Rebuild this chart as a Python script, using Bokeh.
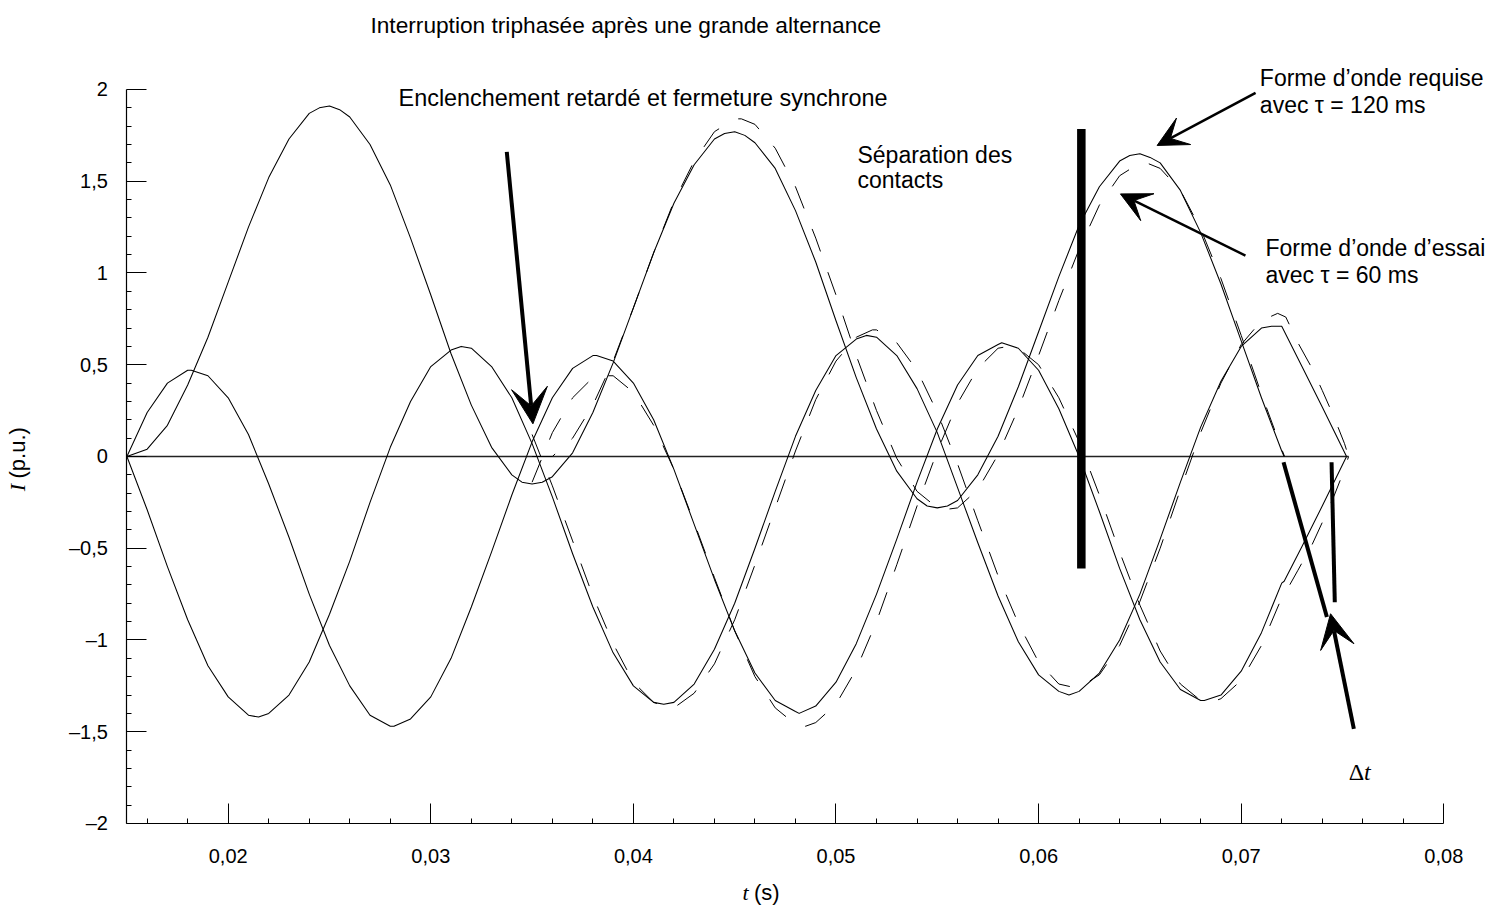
from bokeh.plotting import figure
from bokeh.models import Range1d, FixedTicker, Label, Arrow, VeeHead
from bokeh.embed import file_html
from bokeh.resources import INLINE

# ---------------- data ----------------
x_ticks = [0.02, 0.03, 0.04, 0.05, 0.06, 0.07, 0.08]
x_tick_labels = ["0,02", "0,03", "0,04", "0,05", "0,06", "0,07", "0,08"]
x_minor = [0.016, 0.018, 0.022, 0.024, 0.026, 0.028, 0.032, 0.034, 0.036, 0.038,
           0.042, 0.044, 0.046, 0.048, 0.052, 0.054, 0.056, 0.058, 0.062, 0.064,
           0.066, 0.068, 0.072, 0.074, 0.076, 0.078]
y_ticks = [-2, -1.5, -1, -0.5, 0, 0.5, 1, 1.5, 2]
y_tick_labels = ["–2", "–1,5", "–1", "–0,5", "0", "0,5", "1", "1,5", "2"]
y_minor = [-1.9, -1.8, -1.7, -1.6, -1.4, -1.3, -1.2, -1.1, -0.9, -0.8, -0.7, -0.6,
           -0.4, -0.3, -0.2, -0.1, 0.1, 0.2, 0.3, 0.4, 0.6, 0.7, 0.8, 0.9,
           1.1, 1.2, 1.3, 1.4, 1.6, 1.7, 1.8, 1.9]

# zero line (current after interruption)
zero_t = [0.015, 0.0753]
zero_i = [0.0, 0.0]

# required waveform (tau = 120 ms), phase A
req_a_t = [0.015, 0.016, 0.017, 0.018, 0.019, 0.020, 0.021, 0.022, 0.023, 0.024,
           0.0245, 0.025, 0.0255, 0.026, 0.027, 0.028, 0.029, 0.030, 0.031, 0.032,
           0.033, 0.034, 0.0345, 0.035, 0.0355, 0.036, 0.037, 0.038, 0.039, 0.040,
           0.041, 0.042, 0.043, 0.044, 0.0445, 0.045, 0.0455, 0.046, 0.047, 0.048,
           0.049, 0.050, 0.051, 0.052, 0.053, 0.054, 0.0545, 0.055, 0.0555, 0.056,
           0.057, 0.058, 0.059, 0.060, 0.061, 0.062, 0.063, 0.064, 0.0645, 0.065,
           0.0655, 0.066, 0.067, 0.068, 0.069, 0.070, 0.071, 0.072, 0.07212]
req_a_i = [0.00, 0.04, 0.17, 0.39, 0.65, 0.95, 1.25, 1.52, 1.73, 1.87,
           1.90, 1.91, 1.89, 1.85, 1.70, 1.48, 1.19, 0.88, 0.56, 0.28,
           0.05, -0.10, -0.14, -0.15, -0.14, -0.11, 0.02, 0.24, 0.51, 0.81,
           1.11, 1.38, 1.59, 1.73, 1.76, 1.77, 1.75, 1.71, 1.57, 1.34,
           1.06, 0.74, 0.43, 0.15, -0.08, -0.23, -0.27, -0.28, -0.27, -0.24,
           -0.10, 0.11, 0.38, 0.68, 0.98, 1.26, 1.47, 1.61, 1.64, 1.65,
           1.63, 1.60, 1.45, 1.22, 0.94, 0.63, 0.32, 0.03, 0.00]

# required waveform, phase B
req_b_t = [0.015, 0.016, 0.017, 0.018, 0.01818, 0.019, 0.020, 0.021, 0.022, 0.023,
           0.024, 0.025, 0.026, 0.027, 0.028, 0.02818, 0.029, 0.030, 0.031, 0.032,
           0.033, 0.034, 0.035, 0.036, 0.037, 0.038, 0.03818, 0.039, 0.040, 0.041,
           0.042, 0.043, 0.044, 0.045, 0.046, 0.047, 0.048, 0.04818, 0.049, 0.050,
           0.051, 0.052, 0.053, 0.054, 0.055, 0.056, 0.057, 0.058, 0.05818, 0.059,
           0.060, 0.061, 0.062, 0.063, 0.064, 0.065, 0.066, 0.067, 0.068, 0.06818,
           0.069, 0.070, 0.071, 0.072, 0.07212, 0.073, 0.074, 0.0752]
req_b_i = [0.00, 0.24, 0.40, 0.47, 0.47, 0.44, 0.32, 0.12, -0.15, -0.44,
           -0.75, -1.03, -1.25, -1.41, -1.47, -1.47, -1.43, -1.31, -1.10, -0.82,
           -0.52, -0.21, 0.08, 0.32, 0.48, 0.55, 0.55, 0.52, 0.40, 0.20,
           -0.07, -0.37, -0.67, -0.95, -1.18, -1.33, -1.39, -1.40, -1.36, -1.23,
           -1.02, -0.75, -0.45, -0.14, 0.15, 0.39, 0.55, 0.61, 0.62, 0.59,
           0.47, 0.26, 0.00, -0.30, -0.61, -0.89, -1.12, -1.27, -1.33, -1.33,
           -1.30, -1.17, -0.96, -0.69, -0.68, -0.49, -0.27, 0.00]

# required waveform, phase C
req_c_t = [0.015, 0.016, 0.017, 0.018, 0.019, 0.020, 0.021, 0.0215, 0.022, 0.023,
           0.024, 0.025, 0.026, 0.027, 0.028, 0.029, 0.030, 0.031, 0.0315, 0.032,
           0.033, 0.034, 0.035, 0.036, 0.037, 0.038, 0.039, 0.040, 0.041, 0.0415,
           0.042, 0.043, 0.044, 0.045, 0.046, 0.047, 0.048, 0.049, 0.050, 0.051,
           0.0515, 0.052, 0.053, 0.054, 0.055, 0.056, 0.057, 0.058, 0.059, 0.060,
           0.061, 0.0615, 0.062, 0.063, 0.064, 0.065, 0.066, 0.067, 0.068, 0.069,
           0.070, 0.071, 0.0715, 0.0720, 0.073, 0.074, 0.0752]
req_c_i = [0.00, -0.29, -0.60, -0.89, -1.14, -1.31, -1.41, -1.42, -1.40, -1.30,
           -1.12, -0.86, -0.57, -0.25, 0.05, 0.30, 0.49, 0.58, 0.60, 0.59,
           0.49, 0.32, 0.07, -0.22, -0.53, -0.82, -1.07, -1.25, -1.34, -1.35,
           -1.34, -1.24, -1.05, -0.80, -0.50, -0.19, 0.11, 0.36, 0.55, 0.64,
           0.66, 0.65, 0.55, 0.37, 0.13, -0.17, -0.47, -0.76, -1.01, -1.19,
           -1.28, -1.30, -1.28, -1.18, -1.00, -0.75, -0.45, -0.14, 0.16, 0.41,
           0.60, 0.70, 0.71, 0.71, 0.49, 0.27, 0.00]

# test waveform (tau = 60 ms), phase A
test_a_t = [0.035, 0.036, 0.037, 0.038, 0.039, 0.040, 0.041, 0.042, 0.043, 0.044,
            0.045, 0.04533, 0.046, 0.047, 0.048, 0.049, 0.050, 0.051, 0.052, 0.053,
            0.054, 0.055, 0.05533, 0.056, 0.057, 0.058, 0.059, 0.060, 0.061, 0.062,
            0.063, 0.064, 0.065, 0.06533, 0.066, 0.067, 0.068, 0.069, 0.070, 0.071,
            0.072, 0.07214]
test_a_i = [0.00, 0.00, 0.10, 0.28, 0.52, 0.81, 1.11, 1.39, 1.61, 1.77,
            1.84, 1.84, 1.81, 1.68, 1.47, 1.19, 0.88, 0.55, 0.25, -0.01,
            -0.19, -0.28, -0.29, -0.28, -0.18, 0.01, 0.26, 0.55, 0.85, 1.13,
            1.37, 1.53, 1.60, 1.60, 1.57, 1.45, 1.24, 0.97, 0.66, 0.34,
            0.04, 0.00]

# test waveform, phase B
test_b_t = [0.035, 0.036, 0.037, 0.038, 0.0385, 0.039, 0.040, 0.041, 0.042, 0.043,
            0.044, 0.045, 0.046, 0.047, 0.048, 0.0485, 0.049, 0.050, 0.051, 0.052,
            0.053, 0.054, 0.055, 0.056, 0.057, 0.058, 0.0585, 0.059, 0.060, 0.061,
            0.062, 0.063, 0.064, 0.065, 0.066, 0.067, 0.068, 0.0685, 0.069, 0.070,
            0.071, 0.072, 0.07214, 0.0728, 0.0735, 0.0740, 0.0746, 0.0751, 0.0753]
test_b_i = [-0.14, 0.13, 0.32, 0.43, 0.44, 0.44, 0.35, 0.17, -0.07, -0.36,
            -0.66, -0.95, -1.20, -1.37, -1.46, -1.47, -1.45, -1.35, -1.16, -0.90,
            -0.59, -0.27, 0.03, 0.29, 0.48, 0.59, 0.60, 0.59, 0.50, 0.32,
            0.08, -0.21, -0.52, -0.81, -1.06, -1.24, -1.33, -1.34, -1.32, -1.22,
            -1.03, -0.77, -0.75, -0.62, -0.48, -0.36, -0.21, -0.07, 0.00]

# test waveform, phase C
test_c_t = [0.035, 0.036, 0.037, 0.038, 0.039, 0.040, 0.041, 0.0418, 0.042, 0.043,
            0.044, 0.045, 0.046, 0.047, 0.048, 0.049, 0.050, 0.051, 0.0518, 0.052,
            0.053, 0.054, 0.055, 0.056, 0.057, 0.058, 0.059, 0.060, 0.061, 0.0618,
            0.062, 0.063, 0.064, 0.065, 0.066, 0.067, 0.068, 0.069, 0.070, 0.071,
            0.0718, 0.0722, 0.0728, 0.0735, 0.0740, 0.0746, 0.0751, 0.0753]
test_c_i = [0.12, -0.16, -0.46, -0.76, -1.02, -1.23, -1.34, -1.37, -1.37, -1.29,
            -1.13, -0.89, -0.59, -0.28, 0.03, 0.31, 0.52, 0.65, 0.69, 0.69,
            0.62, 0.47, 0.24, -0.04, -0.35, -0.65, -0.91, -1.12, -1.24, -1.26,
            -1.26, -1.19, -1.03, -0.79, -0.50, -0.18, 0.13, 0.40, 0.61, 0.74,
            0.78, 0.76, 0.62, 0.48, 0.36, 0.21, 0.07, 0.00]

# ---------------- figure ----------------
FONT = "Liberation Sans"
SERIF = "Liberation Serif"

# the frame covers the whole canvas; axes are pinned at t=0.015 and I=-2
p = figure(width=1492, height=915,
           x_range=Range1d(0.008761, 0.082404), y_range=Range1d(-2.5014, 2.4850),
           output_backend="svg", toolbar_location=None, min_border=0)
p.xgrid.visible = False
p.ygrid.visible = False
p.outline_line_color = None
p.background_fill_color = "white"
p.border_fill_color = "white"

p.xaxis.ticker = FixedTicker(ticks=x_ticks, minor_ticks=x_minor)
p.yaxis.ticker = FixedTicker(ticks=y_ticks, minor_ticks=y_minor)
p.xaxis.major_label_overrides = dict(zip(x_ticks, x_tick_labels))
p.yaxis.major_label_overrides = dict(zip(y_ticks, y_tick_labels))
p.xaxis.fixed_location = -2
p.yaxis.fixed_location = 0.015
p.xaxis.bounds = (0.015, 0.08)
p.yaxis.bounds = (-2, 2)

for ax in (p.xaxis[0], p.yaxis[0]):
    ax.axis_line_color = "black"
    ax.axis_line_width = 1.2
    ax.major_tick_line_color = "black"
    ax.minor_tick_line_color = "black"
    ax.major_tick_in = 20
    ax.major_tick_out = 0
    ax.minor_tick_in = 5
    ax.minor_tick_out = 0
    ax.major_label_text_font = FONT
    ax.major_label_text_font_size = "20px"
    ax.major_label_text_color = "black"
p.xaxis.major_label_standoff = 26
p.yaxis.major_label_standoff = 19

# curves
p.line(zero_t, zero_i, line_color="#222222", line_width=1.5)
for tt, ii in ((req_a_t, req_a_i), (req_b_t, req_b_i), (req_c_t, req_c_i)):
    p.line(tt, ii, line_color="black", line_width=1.05, line_join="round")
for tt, ii in ((test_a_t, test_a_i), (test_b_t, test_b_i), (test_c_t, test_c_i)):
    p.line(tt, ii, line_color="black", line_width=1.0, line_dash="24 22")

# contact separation bar
p.segment(x0=[0.06211], y0=[-0.61], x1=[0.06211], y1=[1.785],
          line_color="black", line_width=8.5, line_cap="butt")

# delta-t pointer lines
p.segment(x0=[0.07209, 0.07446], y0=[-0.031, -0.031],
          x1=[0.07423, 0.07462], y1=[-0.875, -0.794],
          line_color="black", line_width=4, line_cap="butt")

# arrows
def arrow(x0, y0, x1, y1, w, size):
    p.add_layout(Arrow(end=VeeHead(size=size, fill_color="black", line_color="black"),
                       x_start=x0, y_start=y0, x_end=x1, y_end=y1,
                       line_color="black", line_width=w))

arrow(0.03375, 1.660, 0.03504, 0.178, 4, 36)
arrow(0.07071, 1.982, 0.06585, 1.695, 2.5, 30)
arrow(0.07021, 1.095, 0.06404, 1.431, 2.5, 30)
arrow(0.07556, -1.484, 0.07441, -0.857, 4, 34)

# texts
def label(x, y, text, size="23px", font=FONT, style="normal", align="left",
          baseline="alphabetic", angle=0):
    p.add_layout(Label(x=x, y=y, text=text, text_font=font, text_font_size=size,
                       text_font_style=style, text_color="black", text_align=align,
                       text_baseline=baseline, angle=angle))

label(0.02702, 2.349, "Interruption triphasée après une grande alternance", size="22.7px")
label(0.02841, 1.955, "Enclenchement retardé et fermeture synchrone", size="23.4px")
label(0.05106, 1.644, "Séparation des")
label(0.05106, 1.508, "contacts")
label(0.07092, 2.062, "Forme d’onde requise")
label(0.07092, 1.916, "avec  τ = 120 ms")
label(0.07120, 1.135, "Forme d’onde d’essai")
label(0.07120, 0.990, "avec τ = 60 ms")
label(0.07531, -1.72, "Δ", size="24px", font=SERIF)
label(0.07606, -1.72, "t", size="24px", font=SERIF, style="italic")
label(0.04539, -2.376, "t", size="22px", font=SERIF, style="italic")
label(0.04595, -2.376, "(s)", size="22px")
label(0.0096, -0.19, "I", size="22px", font=SERIF, style="italic", baseline="middle", angle=1.5708)
label(0.0096, -0.12, "(p.u.)", size="22px", baseline="middle", angle=1.5708)

open("out.html", "w").write(file_html(p, INLINE))
